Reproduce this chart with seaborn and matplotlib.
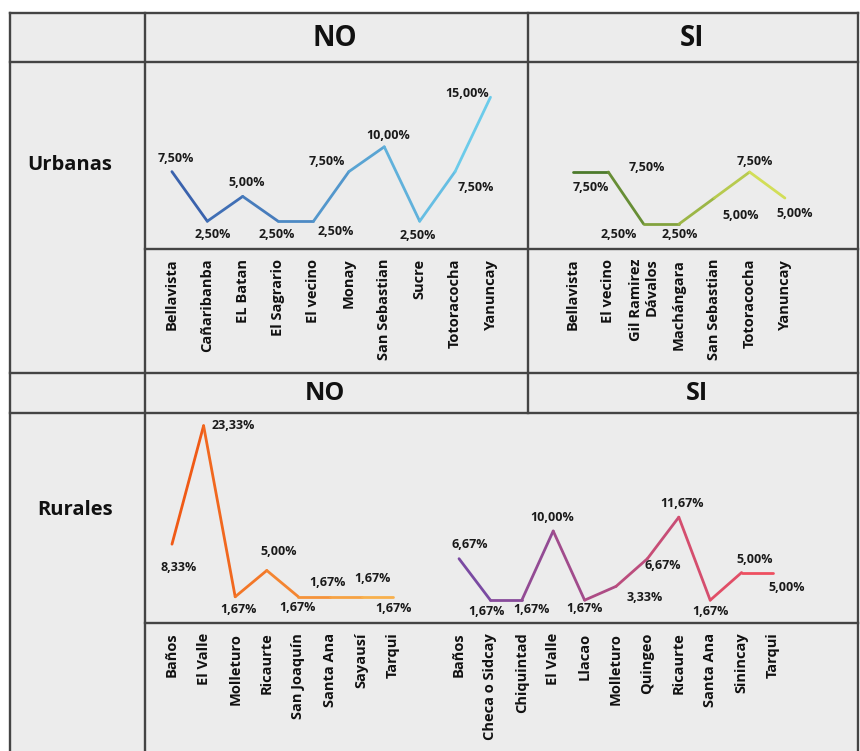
import numpy as np
import matplotlib
matplotlib.use("Agg")
import matplotlib.pyplot as plt
import matplotlib.colors as mcolors
import seaborn as sns

# ---- data -------------------------------------------------------------
urb_no_cat = ["Bellavista", "Cañaribanba", "EL Batan", "El Sagrario", "El vecino",
              "Monay", "San Sebastian", "Sucre", "Totoracocha", "Yanuncay"]
urb_no_val = [7.50, 2.50, 5.00, 2.50, 2.50, 7.50, 10.00, 2.50, 7.50, 15.00]

urb_si_cat = ["Bellavista", "El vecino", "Gil Ramirez\nDávalos", "Machángara",
              "San Sebastian", "Totoracocha", "Yanuncay"]
urb_si_val = [7.50, 7.50, 2.50, 2.50, 5.00, 7.50, 5.00]

rur_no_cat = ["Baños", "El Valle", "Molleturo", "Ricaurte", "San Joaquín",
              "Santa Ana", "Sayausí", "Tarqui"]
rur_no_val = [8.33, 23.33, 1.67, 5.00, 1.67, 1.67, 1.67, 1.67]

rur_si_cat = ["Baños", "Checa o Sidcay", "Chiquintad", "El Valle", "Llacao",
              "Molleturo", "Quingeo", "Ricaurte", "Santa Ana", "Sinincay", "Tarqui"]
rur_si_val = [6.67, 1.67, 1.67, 10.00, 1.67, 3.33, 6.67, 11.67, 1.67, 5.00, 5.00]

col_headers = ["NO", "SI"]
row_headers = ["Urbanas", "Rurales"]

# ---- layout (label offsets in pixels: dx right, dy down) ---------------
off_urb_no = [(4, -13), (5, 13), (4, -14), (-1, 13), (22, 10),
              (-22, -10), (4, -11), (-2, 14), (21, 16), (-23, -4)]
off_urb_si = [(18, 15), (38, -5), (-25, 10), (1, 10), (26, 17), (5, -11), (10, 15)]
off_rur_no = [(7, 23), (30, 0), (3, 13), (12, -19), (-1, 11), (-2, -14), (11, -18), (0, 12)]
off_rur_si = [(11, -14), (-4, 11), (10, 9), (-1, -14), (0, 8), (29, 11),
              (15, 7), (3, -14), (0, 11), (13, -13), (14, 15)]

W, H = 860, 751
sns.set_theme(style="white")
plt.rcParams["font.family"] = ["Open Sans", "DejaVu Sans"]

fig = plt.figure(figsize=(W / 100, H / 100), dpi=100)
fig.patch.set_facecolor("white")

# ---- table background and grid ----------------------------------------
bg = fig.add_axes([0, 0, 1, 1])
bg.set_xlim(0, W)
bg.set_ylim(H, 0)
bg.axis("off")
bg.add_patch(plt.Rectangle((10, 13), 848, H - 13, facecolor="#ececec",
                           edgecolor="none", zorder=0))
grid_kw = dict(color="#444444", lw=1.7, zorder=1, solid_capstyle="projecting")
# horizontal rules
bg.plot([10, 858], [13, 13], **grid_kw)
bg.plot([10, 858], [62, 62], **grid_kw)
bg.plot([145, 858], [249, 249], **grid_kw)
bg.plot([10, 858], [373, 373], **grid_kw)
bg.plot([10, 858], [413, 413], **grid_kw)
bg.plot([145, 858], [623, 623], **grid_kw)
# vertical rules
bg.plot([10, 10], [13, H], **grid_kw)
bg.plot([145, 145], [13, H], **grid_kw)
bg.plot([858, 858], [13, H], **grid_kw)
bg.plot([528, 528], [13, 413], **grid_kw)

# headers
head_fam = ["Liberation Sans Narrow", "Open Sans", "DejaVu Sans"]
bg.text(335, 38, col_headers[0], ha="center", va="center", fontsize=20,
        fontweight="bold", family=head_fam, color="#111111")
bg.text(692, 38, col_headers[1], ha="center", va="center", fontsize=20,
        fontweight="bold", family=head_fam, color="#111111")
bg.text(325, 394, col_headers[0], ha="center", va="center", fontsize=18,
        fontweight="bold", color="#111111")
bg.text(697, 394, col_headers[1], ha="center", va="center", fontsize=18,
        fontweight="bold", color="#111111")
bg.text(70, 165, row_headers[0], ha="center", va="center", fontsize=14.5,
        fontweight="bold", color="#111111")
bg.text(75, 510, row_headers[1], ha="center", va="center", fontsize=14.5,
        fontweight="bold", color="#111111")


def px_axes(x0, y0, x1, y1):
    ax = fig.add_axes([x0 / W, 1 - y1 / H, (x1 - x0) / W, (y1 - y0) / H])
    ax.set_facecolor("none")
    for s in ax.spines.values():
        s.set_visible(False)
    return ax


def pct(v):
    return f"{v:.2f}".replace(".", ",") + "%"


def draw_panel(ax, cats, vals, c0, c1, offsets, xlim, ylim):
    n = len(vals)
    cmap = mcolors.LinearSegmentedColormap.from_list("seg", [c0, c1])
    for i in range(n - 1):
        sns.lineplot(x=[i, i + 1], y=[vals[i], vals[i + 1]], ax=ax,
                     color=cmap(i / max(n - 2, 1)), linewidth=2.0,
                     solid_capstyle="round", legend=False)
    for i, v in enumerate(vals):
        dx, dy = offsets[i]
        ax.annotate(pct(v), (i, v), xytext=(dx, -dy), textcoords="offset pixels",
                    ha="center", va="center", fontsize=9, fontweight="bold",
                    color="#1a1a1a")
    ax.set_xlim(*xlim)
    ax.set_ylim(*ylim)
    ax.set_yticks([])
    ax.set_xticks(range(n))
    ax.set_xticklabels(cats, rotation=90, fontsize=10.5, fontweight="bold",
                       color="#111111", va="top", ha="center")
    for lab in ax.get_xticklabels():
        lab.set_multialignment("right")
    ax.tick_params(axis="x", length=0, pad=7)
    ax.set_xlabel("")
    ax.set_ylabel("")
    ax.grid(False)


ax1 = px_axes(145, 62, 528, 249)
draw_panel(ax1, urb_no_cat, urb_no_val, "#3a62ad", "#6ccbea", off_urb_no,
           (-0.76, 10.06), (-0.30, 18.55))

ax2 = px_axes(528, 62, 858, 249)
draw_panel(ax2, urb_si_cat, urb_si_val, "#4c7a2c", "#d2de58", off_urb_si,
           (-1.275, 8.07), (0.10, 18.08))

ax3 = px_axes(145, 413, 430, 623)
draw_panel(ax3, rur_no_cat, rur_no_val, "#f05a16", "#f8b04c", off_rur_no,
           (-0.854, 8.165), (-1.65, 24.94))

ax4 = px_axes(430, 413, 858, 623)
draw_panel(ax4, rur_si_cat, rur_si_val, "#7a4aa2", "#ee4f60", off_rur_si,
           (-0.924, 12.707), (-1.08, 24.22))

fig.savefig("out.png", dpi=100, facecolor=fig.get_facecolor())
